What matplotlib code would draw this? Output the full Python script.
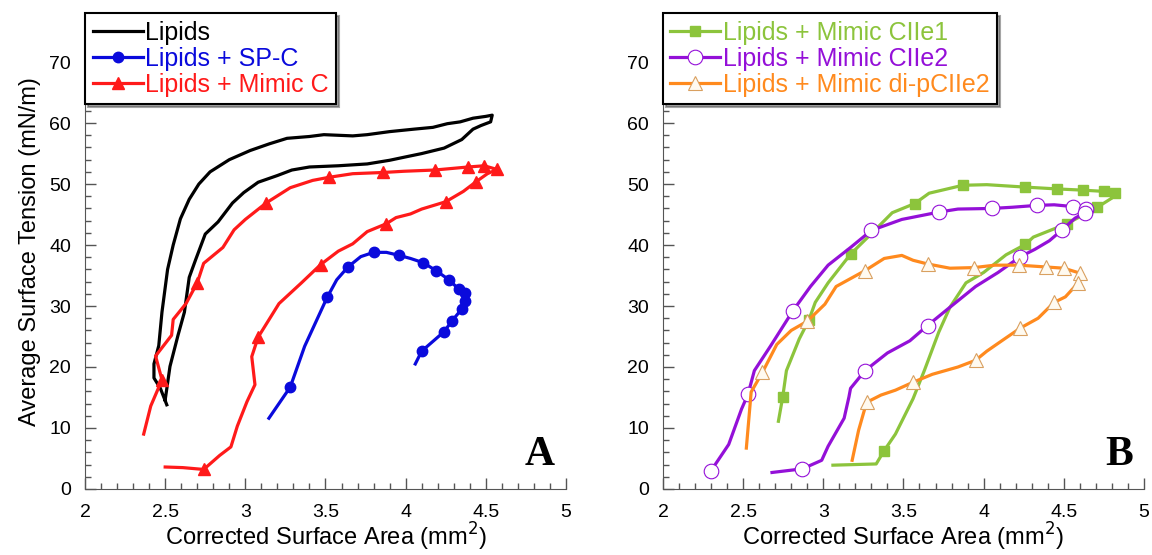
import numpy as np
import matplotlib
matplotlib.use("Agg")
import matplotlib.pyplot as plt
from matplotlib.ticker import MultipleLocator

plt.rcParams['font.family'] = ['Liberation Sans', 'DejaVu Sans']

# ---- panel A ----
lip_x = [2.51, 2.47, 2.43, 2.43, 2.46, 2.48, 2.515, 2.55, 2.595, 2.65, 2.71, 2.78, 2.9, 3.03, 3.15,
         3.26, 3.4, 3.49, 3.58, 3.67, 3.76, 3.9, 4.05, 4.17, 4.26, 4.34, 4.42, 4.5, 4.54,
         4.53, 4.47, 4.42, 4.35, 4.24, 4.1, 3.99, 3.9, 3.76, 3.58, 3.4, 3.29, 3.2, 3.08,
         2.99, 2.92, 2.83, 2.75, 2.69, 2.65, 2.62, 2.58, 2.53, 2.5]
lip_y = [13.8, 16.5, 18.2, 20.5, 23.5, 29.0, 36.0, 40.0, 44.3, 47.5, 50.0, 52.0, 54.0, 55.5, 56.6,
         57.5, 57.8, 58.1, 58.0, 57.9, 58.1, 58.6, 59.0, 59.3, 59.9, 60.2, 60.8, 61.1, 61.3,
         60.2, 59.6, 59.0, 57.3, 55.9, 55.0, 54.4, 53.9, 53.3, 53.0, 52.8, 52.3, 51.4, 50.3,
         48.6, 46.9, 43.8, 41.8, 37.6, 34.7, 29.0, 25.2, 20.1, 14.6]

spc_x = [3.147, 3.28, 3.37, 3.51, 3.57, 3.64, 3.72, 3.80, 3.88, 3.96, 4.03, 4.11, 4.19, 4.27,
         4.33, 4.37, 4.37, 4.35, 4.29, 4.24, 4.10, 4.06]
spc_y = [11.6, 16.7, 23.4, 31.4, 34.3, 36.4, 38.1, 38.8, 38.8, 38.3, 37.8, 37.1, 35.8, 34.3,
         32.8, 32.2, 30.8, 29.5, 27.6, 25.8, 22.6, 20.5]
spc_mk = [1, 3, 5, 7, 9, 11, 12, 13, 14, 15, 16, 17, 18, 19, 20]

mc_x = [2.366, 2.41, 2.48, 2.44, 2.54, 2.55, 2.63, 2.70, 2.74, 2.86, 2.93, 3.0, 3.13, 3.28, 3.42,
        3.52, 3.67, 3.86, 3.99, 4.18, 4.39, 4.49, 4.57,
        4.51, 4.44, 4.36, 4.25, 4.10, 4.03, 3.94, 3.88, 3.76, 3.67, 3.58, 3.47, 3.35, 3.21,
        3.08, 3.04, 3.06, 3.01, 2.95, 2.91, 2.84, 2.74, 2.61, 2.50]
mc_y = [9.0, 13.6, 17.9, 21.8, 25.2, 27.8, 30.4, 33.8, 37.0, 39.6, 42.5, 44.2, 46.9, 49.4, 50.6,
        51.1, 51.7, 51.9, 52.1, 52.3, 52.8, 53.0, 52.4,
        51.7, 50.4, 48.8, 47.1, 45.9, 45.1, 44.5, 43.5, 42.2, 40.2, 39.0, 36.8, 33.8, 30.4,
        24.9, 21.7, 17.1, 14.3, 10.3, 6.9, 5.5, 3.2, 3.5, 3.6]
mc_mk = [2, 7, 12, 15, 17, 19, 20, 21, 22, 24, 26, 30, 34, 37, 44]

# ---- panel B ----
c1_x = [2.72, 2.747, 2.77, 2.85, 2.91, 2.95, 3.03, 3.17, 3.29, 3.43, 3.57, 3.66, 3.87, 4.02,
        4.26, 4.46, 4.62, 4.75, 4.82, 4.80, 4.71, 4.52, 4.31, 4.26, 4.14, 4.0, 3.89, 3.79,
        3.72, 3.63, 3.56, 3.45, 3.38, 3.33, 3.06]
c1_y = [11.1, 15.1, 19.4, 24.6, 27.7, 30.6, 33.8, 38.5, 41.6, 45.3, 46.8, 48.5, 49.8, 49.9,
        49.5, 49.2, 49.0, 48.8, 48.5, 47.7, 46.2, 43.5, 41.3, 40.1, 38.4, 35.5, 33.8, 29.8,
        25.7, 19.4, 14.8, 9.0, 6.3, 4.1, 3.9]
c1_mk = [1, 4, 7, 10, 12, 14, 15, 16, 17, 18, 20, 21, 23, 32]

c2_x = [2.30, 2.41, 2.49, 2.53, 2.57, 2.67, 2.81, 2.92, 3.03, 3.17, 3.30, 3.49, 3.72, 3.84,
        4.05, 4.18, 4.33, 4.44, 4.56, 4.64, 4.63, 4.57, 4.49, 4.41, 4.32, 4.23, 4.09, 3.95,
        3.79, 3.65, 3.54, 3.40, 3.26, 3.17, 3.16, 3.13, 3.03, 2.99, 2.87, 2.68]
c2_y = [3.0, 7.3, 13.1, 15.5, 19.4, 23.4, 29.2, 33.2, 36.7, 39.6, 42.4, 44.2, 45.4, 45.9,
        46.0, 46.2, 46.5, 46.6, 46.3, 45.9, 45.3, 44.4, 42.5, 40.7, 39.3, 38.1, 35.5, 33.2,
        29.8, 26.8, 24.3, 22.3, 19.4, 16.5, 15.1, 11.6, 7.0, 4.7, 3.3, 2.7]
c2_mk = [0, 3, 6, 10, 12, 14, 16, 18, 19, 20, 22, 25, 29, 32, 38]

dp_x = [2.52, 2.55, 2.62, 2.71, 2.80, 2.90, 3.01, 3.08, 3.26, 3.38, 3.49, 3.56, 3.65, 3.79,
        3.94, 4.07, 4.22, 4.39, 4.50, 4.60, 4.59, 4.51, 4.44, 4.34, 4.23, 4.13, 4.02, 3.95,
        3.84, 3.68, 3.56, 3.45, 3.36, 3.27, 3.22, 3.18]
dp_y = [6.7, 15.9, 19.1, 23.7, 26.0, 27.5, 30.3, 33.2, 35.8, 37.8, 38.3, 37.5, 36.9, 36.2,
        36.3, 36.7, 36.7, 36.4, 36.2, 35.4, 33.8, 31.5, 30.6, 28.0, 26.4, 24.6, 22.6, 21.1,
        20.0, 18.8, 17.5, 16.2, 15.4, 14.2, 9.6, 4.7]
dp_mk = [2, 5, 8, 12, 14, 16, 17, 18, 19, 20, 22, 24, 27, 30, 33]

BLACK = 'black'
BLUE = '#0a0adc'
RED = '#ff1a1a'
GREEN = '#8cc43c'
PURPLE = '#9410d8'
ORANGE = '#ff8a1e'

fig = plt.figure(figsize=(11.52, 5.55), dpi=100)
axA = fig.add_axes([0.0738, 0.119, 0.4175, 0.857])
axB = fig.add_axes([0.5755, 0.119, 0.4175, 0.857])

lw = 2.3
axA.plot(lip_x, lip_y, color=BLACK, lw=lw, label='Lipids')
axA.plot(spc_x, spc_y, color=BLUE, lw=lw, marker='o', ms=7.5, markevery=spc_mk, label='Lipids + SP-C')
axA.plot(mc_x, mc_y, color=RED, lw=lw, marker='^', ms=9, markevery=mc_mk, label='Lipids + Mimic C')

axB.plot(c1_x, c1_y, color=GREEN, lw=lw, marker='s', ms=7.5, markevery=c1_mk, label='Lipids + Mimic CIIe1')
axB.plot(c2_x, c2_y, color=PURPLE, lw=lw, marker='o', ms=10.5, mfc='white', mec=PURPLE, mew=0.8,
         markevery=c2_mk, label='Lipids + Mimic CIIe2')
axB.plot(dp_x, dp_y, color=ORANGE, lw=lw, marker='^', ms=10.5, mfc='#fffaf0', mec='#d9a060', mew=0.8,
         markevery=dp_mk, label='Lipids + Mimic di-pCIIe2')

for ax, letter in [(axA, 'A'), (axB, 'B')]:
    ax.set_xlim(2, 5)
    ax.set_ylim(0, 78)
    ax.spines['top'].set_visible(False)
    ax.spines['right'].set_visible(False)
    for s in ['left', 'bottom']:
        ax.spines[s].set_color('#555555')
    ax.xaxis.set_minor_locator(MultipleLocator(0.1))
    ax.yaxis.set_minor_locator(MultipleLocator(2))
    ax.set_yticks(range(0, 80, 10))
    ax.set_xticks([2, 2.5, 3, 3.5, 4, 4.5, 5])
    ax.set_xticklabels(['2', '2.5', '3', '3.5', '4', '4.5', '5'])
    ax.tick_params(which='major', direction='in', length=8, width=1, color='#555555', labelsize=14, pad=10)
    ax.tick_params(axis='x', which='major', pad=11)
    ax.tick_params(which='minor', direction='in', length=4, width=1, color='#555555')
    ax.set_xlabel('Corrected Surface Area (mm$^2$)', fontsize=17, labelpad=0)
    ax.text(4.93, 2.5, letter, fontsize=30, fontweight='bold', family='Liberation Serif',
            ha='right', va='bottom')
    leg = ax.legend(loc='upper left', bbox_to_anchor=(0.0, 1.0), fontsize=18, frameon=True,
                    fancybox=False, shadow=True, handlelength=2.0, handletextpad=0.1,
                    borderpad=0.3, labelspacing=0.08, borderaxespad=0.0)
    leg.get_frame().set_edgecolor('black')
    leg.get_frame().set_linewidth(1.5)
    for txt, line in zip(leg.get_texts(), leg.get_lines()):
        txt.set_color(line.get_color())

axA.set_ylabel('Average Surface Tension (mN/m)', fontsize=17, labelpad=6)

fig.savefig('out.png', dpi=100)
